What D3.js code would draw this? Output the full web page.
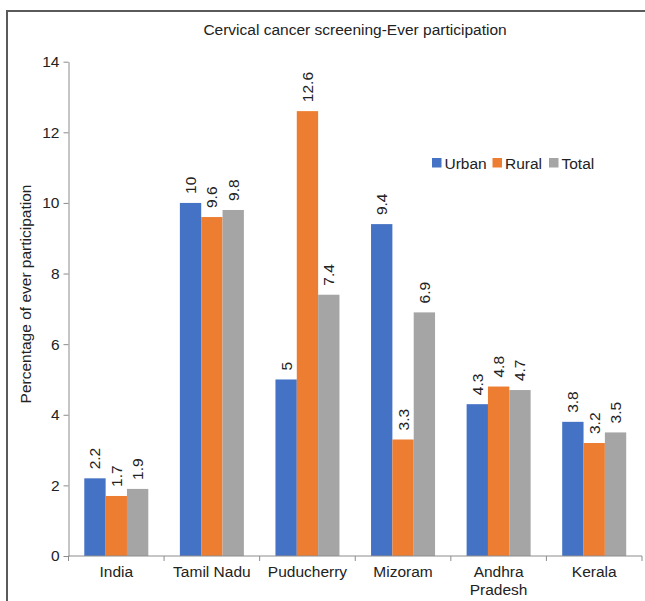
<!DOCTYPE html>
<html>
<head>
<meta charset="utf-8">
<script src="https://cdn.jsdelivr.net/npm/d3@7"></script>
<style>
  html, body { margin: 0; padding: 0; background: #fff; }
  svg { display: block; font-family: "Liberation Sans", Arial, sans-serif; }
</style>
</head>
<body>
<svg id="chart" width="645" height="601"></svg>
<script>
// Cervical cancer screening — ever participation (%) by state
const categories = ["India", "Tamil Nadu", "Puducherry", "Mizoram", "Andhra Pradesh", "Kerala"];
const seriesNames = ["Urban", "Rural", "Total"];
const urban = [2.2, 10, 5, 9.4, 4.3, 3.8];
const rural = [1.7, 9.6, 12.6, 3.3, 4.8, 3.2];
const total = [1.9, 9.8, 7.4, 6.9, 4.7, 3.5];
const yTicks = [0, 2, 4, 6, 8, 10, 12, 14];
const colors = ["#4472C4", "#ED7D31", "#A5A5A5"];

const seriesValues = [urban, rural, total];
const FS = 15.5;
const FONT = "Liberation Sans, Arial, sans-serif";

const svg = d3.select("#chart");

// outer frame (left and top edges visible)
svg.append("rect")
  .attr("x", 7).attr("y", 11)
  .attr("width", 800).attr("height", 800)
  .attr("fill", "none")
  .attr("stroke", "#5a5a5a")
  .attr("stroke-width", 2);

const plot = { left: 68.5, right: 642, top: 61.7, bottom: 556 };

const x0 = d3.scaleBand().domain(categories).range([plot.left, plot.right]).padding(0);
const x1 = d3.scaleBand().domain(seriesNames).range([0, x0.bandwidth()])
  .paddingInner(0).paddingOuter(0.74);
const y = d3.scaleLinear().domain([0, 14]).range([plot.bottom, plot.top]);

// title
svg.append("text")
  .attr("x", 355).attr("y", 35)
  .attr("text-anchor", "middle")
  .attr("font-size", FS)
  .attr("fill", "#222")
  .text("Cervical cancer screening-Ever participation");

// bars
const groups = svg.append("g").selectAll("g")
  .data(categories)
  .join("g")
  .attr("transform", d => `translate(${x0(d)},0)`);

groups.selectAll("rect")
  .data((c, i) => seriesNames.map((s, k) => ({ s, k, v: seriesValues[k][i] })))
  .join("rect")
  .attr("x", d => x1(d.s))
  .attr("y", d => y(d.v))
  .attr("width", x1.bandwidth())
  .attr("height", d => y(0) - y(d.v))
  .attr("fill", d => colors[d.k]);

// value labels (rotated)
groups.selectAll("text.val")
  .data((c, i) => seriesNames.map((s, k) => ({ s, k, v: seriesValues[k][i] })))
  .join("text")
  .attr("class", "val")
  .attr("transform", d => `translate(${x1(d.s) + x1.bandwidth() / 2 + 5.5},${y(d.v) - 9}) rotate(-90)`)
  .attr("text-anchor", "start")
  .attr("font-size", FS)
  .attr("fill", "#222")
  .text(d => d.v);

// y axis
const yAxis = svg.append("g")
  .attr("transform", `translate(${plot.left},0)`)
  .call(d3.axisLeft(y).tickValues(yTicks).tickSize(5).tickSizeOuter(0).tickPadding(4));
yAxis.select(".domain").attr("stroke", "#8c8c8c");
yAxis.selectAll(".tick line").attr("stroke", "#8c8c8c");
yAxis.selectAll(".tick text")
  .attr("font-size", FS)
  .attr("fill", "#222")
  .attr("font-family", FONT);

// x axis: ticks on category boundaries
const xAxisG = svg.append("g").attr("transform", `translate(0,${plot.bottom})`);
xAxisG.append("line")
  .attr("x1", plot.left).attr("x2", plot.right)
  .attr("stroke", "#8c8c8c");
const boundaries = categories.map(c => x0(c)).concat([x0(categories[categories.length - 1]) + x0.bandwidth()]);
xAxisG.selectAll("line.tk")
  .data(boundaries)
  .join("line")
  .attr("class", "tk")
  .attr("x1", d => d).attr("x2", d => d)
  .attr("y1", 0).attr("y2", 5)
  .attr("stroke", "#8c8c8c");

const xLabels = {
  "Andhra Pradesh": ["Andhra", "Pradesh"]
};
xAxisG.selectAll("text")
  .data(categories)
  .join("text")
  .attr("x", d => x0(d) + x0.bandwidth() / 2)
  .attr("y", 21)
  .attr("text-anchor", "middle")
  .attr("font-size", FS)
  .attr("fill", "#222")
  .each(function (d) {
    const lines = xLabels[d] || [d];
    d3.select(this).selectAll("tspan")
      .data(lines)
      .join("tspan")
      .attr("x", x0(d) + x0.bandwidth() / 2)
      .attr("dy", (l, i) => i === 0 ? 0 : 18)
      .text(l => l);
  });

// y axis title
svg.append("text")
  .attr("transform", "translate(31,294) rotate(-90)")
  .attr("text-anchor", "middle")
  .attr("font-size", FS)
  .attr("fill", "#222")
  .text("Percentage of ever participation");

// legend
const legend = svg.append("g").attr("transform", "translate(432,158)");
const legendX = [0, 60.5, 117];
seriesNames.forEach((s, k) => {
  const g = legend.append("g").attr("transform", `translate(${legendX[k]},0)`);
  g.append("rect").attr("width", 9.5).attr("height", 9.5).attr("fill", colors[k]);
  g.append("text").attr("x", 12.5).attr("y", 10.5)
    .attr("font-size", FS).attr("fill", "#222").text(s);
});
</script>
</body>
</html>
